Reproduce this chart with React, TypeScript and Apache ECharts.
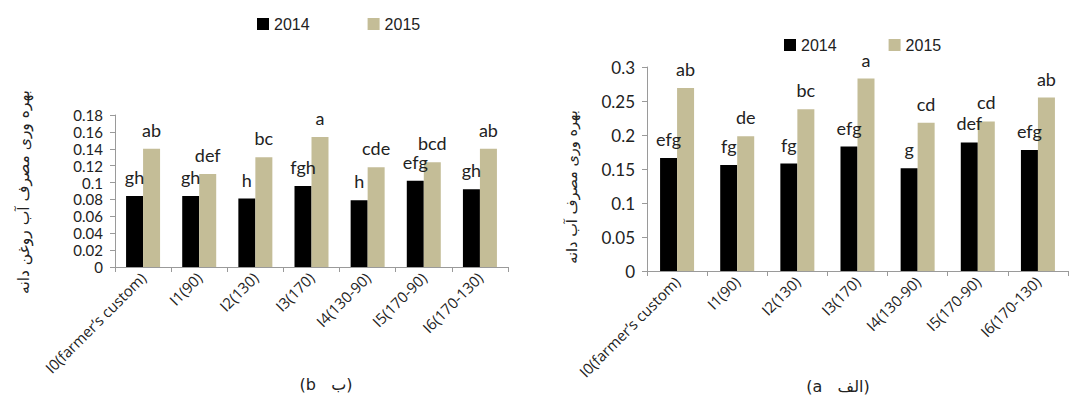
import React, { useEffect, useRef } from "react";
import * as echarts from "echarts";

const categories = [
  "I0(farmer’s custom)",
  "I1(90)",
  "I2(130)",
  "I3(170)",
  "I4(130-90)",
  "I5(170-90)",
  "I6(170-130)",
];

// Left panel (b): oil-seed water use efficiency
const oil2014 = [0.084, 0.084, 0.081, 0.096, 0.079, 0.102, 0.092];
const oil2015 = [0.14, 0.11, 0.13, 0.154, 0.118, 0.124, 0.14];
const oil2014Letters = ["gh", "gh", "h", "fgh", "h", "efg", "gh"];
const oil2015Letters = ["ab", "def", "bc", "a", "cde", "bcd", "ab"];

// Right panel (a): grain water use efficiency
const grain2014 = [0.166, 0.156, 0.158, 0.183, 0.151, 0.189, 0.178];
const grain2015 = [0.269, 0.198, 0.238, 0.283, 0.218, 0.22, 0.255];
const grain2014Letters = ["efg", "fg", "fg", "efg", "g", "def", "efg"];
const grain2015Letters = ["ab", "de", "bc", "a", "cd", "cd", "ab"];

const oilAxis = { min: 0, max: 0.18, interval: 0.02 };
const grainAxis = { min: 0, max: 0.3, interval: 0.05 };

const years = ["2014", "2015"];
const leftTitle = "بهره وری مصرف آب روغن دانه";
const rightTitle = "بهره وری مصرف آب دانه";
const leftCaption = "(b   ب)";
const rightCaption = "(a   الف)";

const BLACK = "#000000";
const TAN = "#C4BD97";
const AXIS = "#9A9A9A";
const TEXT = "#222222";
const LAT = "Lato, 'Open Sans', sans-serif";
const OPEN = "'Open Sans', Lato, sans-serif";
const AR = "'DejaVu Sans', sans-serif";

export default function App() {
  const ref = useRef<HTMLDivElement>(null);

  useEffect(() => {
    if (!ref.current) return;
    const chart = echarts.init(ref.current, null, { renderer: "svg" });

    const xAxisBase = (gridIndex: number) => ({
      type: "category",
      gridIndex,
      data: categories,
      axisLine: { lineStyle: { color: AXIS, width: 1 } },
      axisTick: { show: true, length: 5, lineStyle: { color: AXIS } },
      axisLabel: {
        rotate: 45,
        interval: 0,
        fontFamily: OPEN,
        fontSize: 15,
        color: TEXT,
        margin: 8,
      },
      splitLine: { show: false },
    });

    const yAxisBase = (
      gridIndex: number,
      ax: any,
      fontSize: number,
      lineHeight: number
    ) => ({
      type: "value",
      gridIndex,
      min: ax.min,
      max: ax.max,
      interval: ax.interval,
      axisLine: { show: true, lineStyle: { color: AXIS, width: 1 } },
      axisTick: { show: true, length: 5, lineStyle: { color: AXIS } },
      axisLabel: { fontFamily: LAT, fontSize, lineHeight, color: TEXT, margin: 12 },
      splitLine: { show: false },
    });

    const labelOf = (letters: string[]) => ({
      show: true,
      position: "top",
      distance: 10,
      fontFamily: LAT,
      fontSize: 18,
      color: TEXT,
      formatter: (p: any) => letters[p.dataIndex],
    });

    const bar = (
      name: string,
      idx: number,
      data: number[],
      color: string,
      letters: string[]
    ) => ({
      name,
      type: "bar",
      xAxisIndex: idx,
      yAxisIndex: idx,
      data,
      barWidth: 17,
      barGap: "0%",
      itemStyle: { color },
      label: labelOf(letters),
    });

    const legendBase = (left: number, top: number, gap: number) => ({
      data: years,
      left,
      top,
      itemGap: gap,
      itemWidth: 12,
      itemHeight: 12,
      icon: "rect",
      textStyle: {
        fontFamily: "'Liberation Sans', Arial, sans-serif",
        fontSize: 16,
        color: TEXT,
      },
      selectedMode: false,
    });

    chart.setOption({
      animation: false,
      backgroundColor: "#ffffff",
      grid: [
        { left: 115, top: 115, width: 393, height: 152 },
        { left: 647, top: 67, width: 421, height: 204 },
      ],
      legend: [legendBase(252, 11, 58), legendBase(779, 32, 52)],
      xAxis: [xAxisBase(0), xAxisBase(1)],
      yAxis: [yAxisBase(0, oilAxis, 15, 15), yAxisBase(1, grainAxis, 17, 17)],
      series: [
        bar(years[0], 0, oil2014, BLACK, oil2014Letters),
        bar(years[1], 0, oil2015, TAN, oil2015Letters),
        bar(years[0], 1, grain2014, BLACK, grain2014Letters),
        bar(years[1], 1, grain2015, TAN, grain2015Letters),
      ],
      graphic: [
        {
          type: "text",
          x: 24,
          y: 192,
          rotation: Math.PI / 2,
          style: {
            text: leftTitle,
            fontFamily: AR,
            fontSize: 15.5,
            fill: TEXT,
            textAlign: "center",
            textVerticalAlign: "middle",
          },
        },
        {
          type: "text",
          x: 572,
          y: 187,
          rotation: Math.PI / 2,
          style: {
            text: rightTitle,
            fontFamily: AR,
            fontSize: 14.5,
            fill: TEXT,
            textAlign: "center",
            textVerticalAlign: "middle",
          },
        },
        {
          type: "text",
          x: 326,
          y: 384,
          style: {
            text: leftCaption,
            fontFamily: AR,
            fontSize: 16,
            fill: TEXT,
            textAlign: "center",
            textVerticalAlign: "middle",
          },
        },
        {
          type: "text",
          x: 838,
          y: 386,
          style: {
            text: rightCaption,
            fontFamily: AR,
            fontSize: 16,
            fill: TEXT,
            textAlign: "center",
            textVerticalAlign: "middle",
          },
        },
      ],
    });

    return () => chart.dispose();
  }, []);

  return (
    <div
      ref={ref}
      style={{ position: "absolute", left: 0, top: 0, width: 1069, height: 400 }}
    />
  );
}
